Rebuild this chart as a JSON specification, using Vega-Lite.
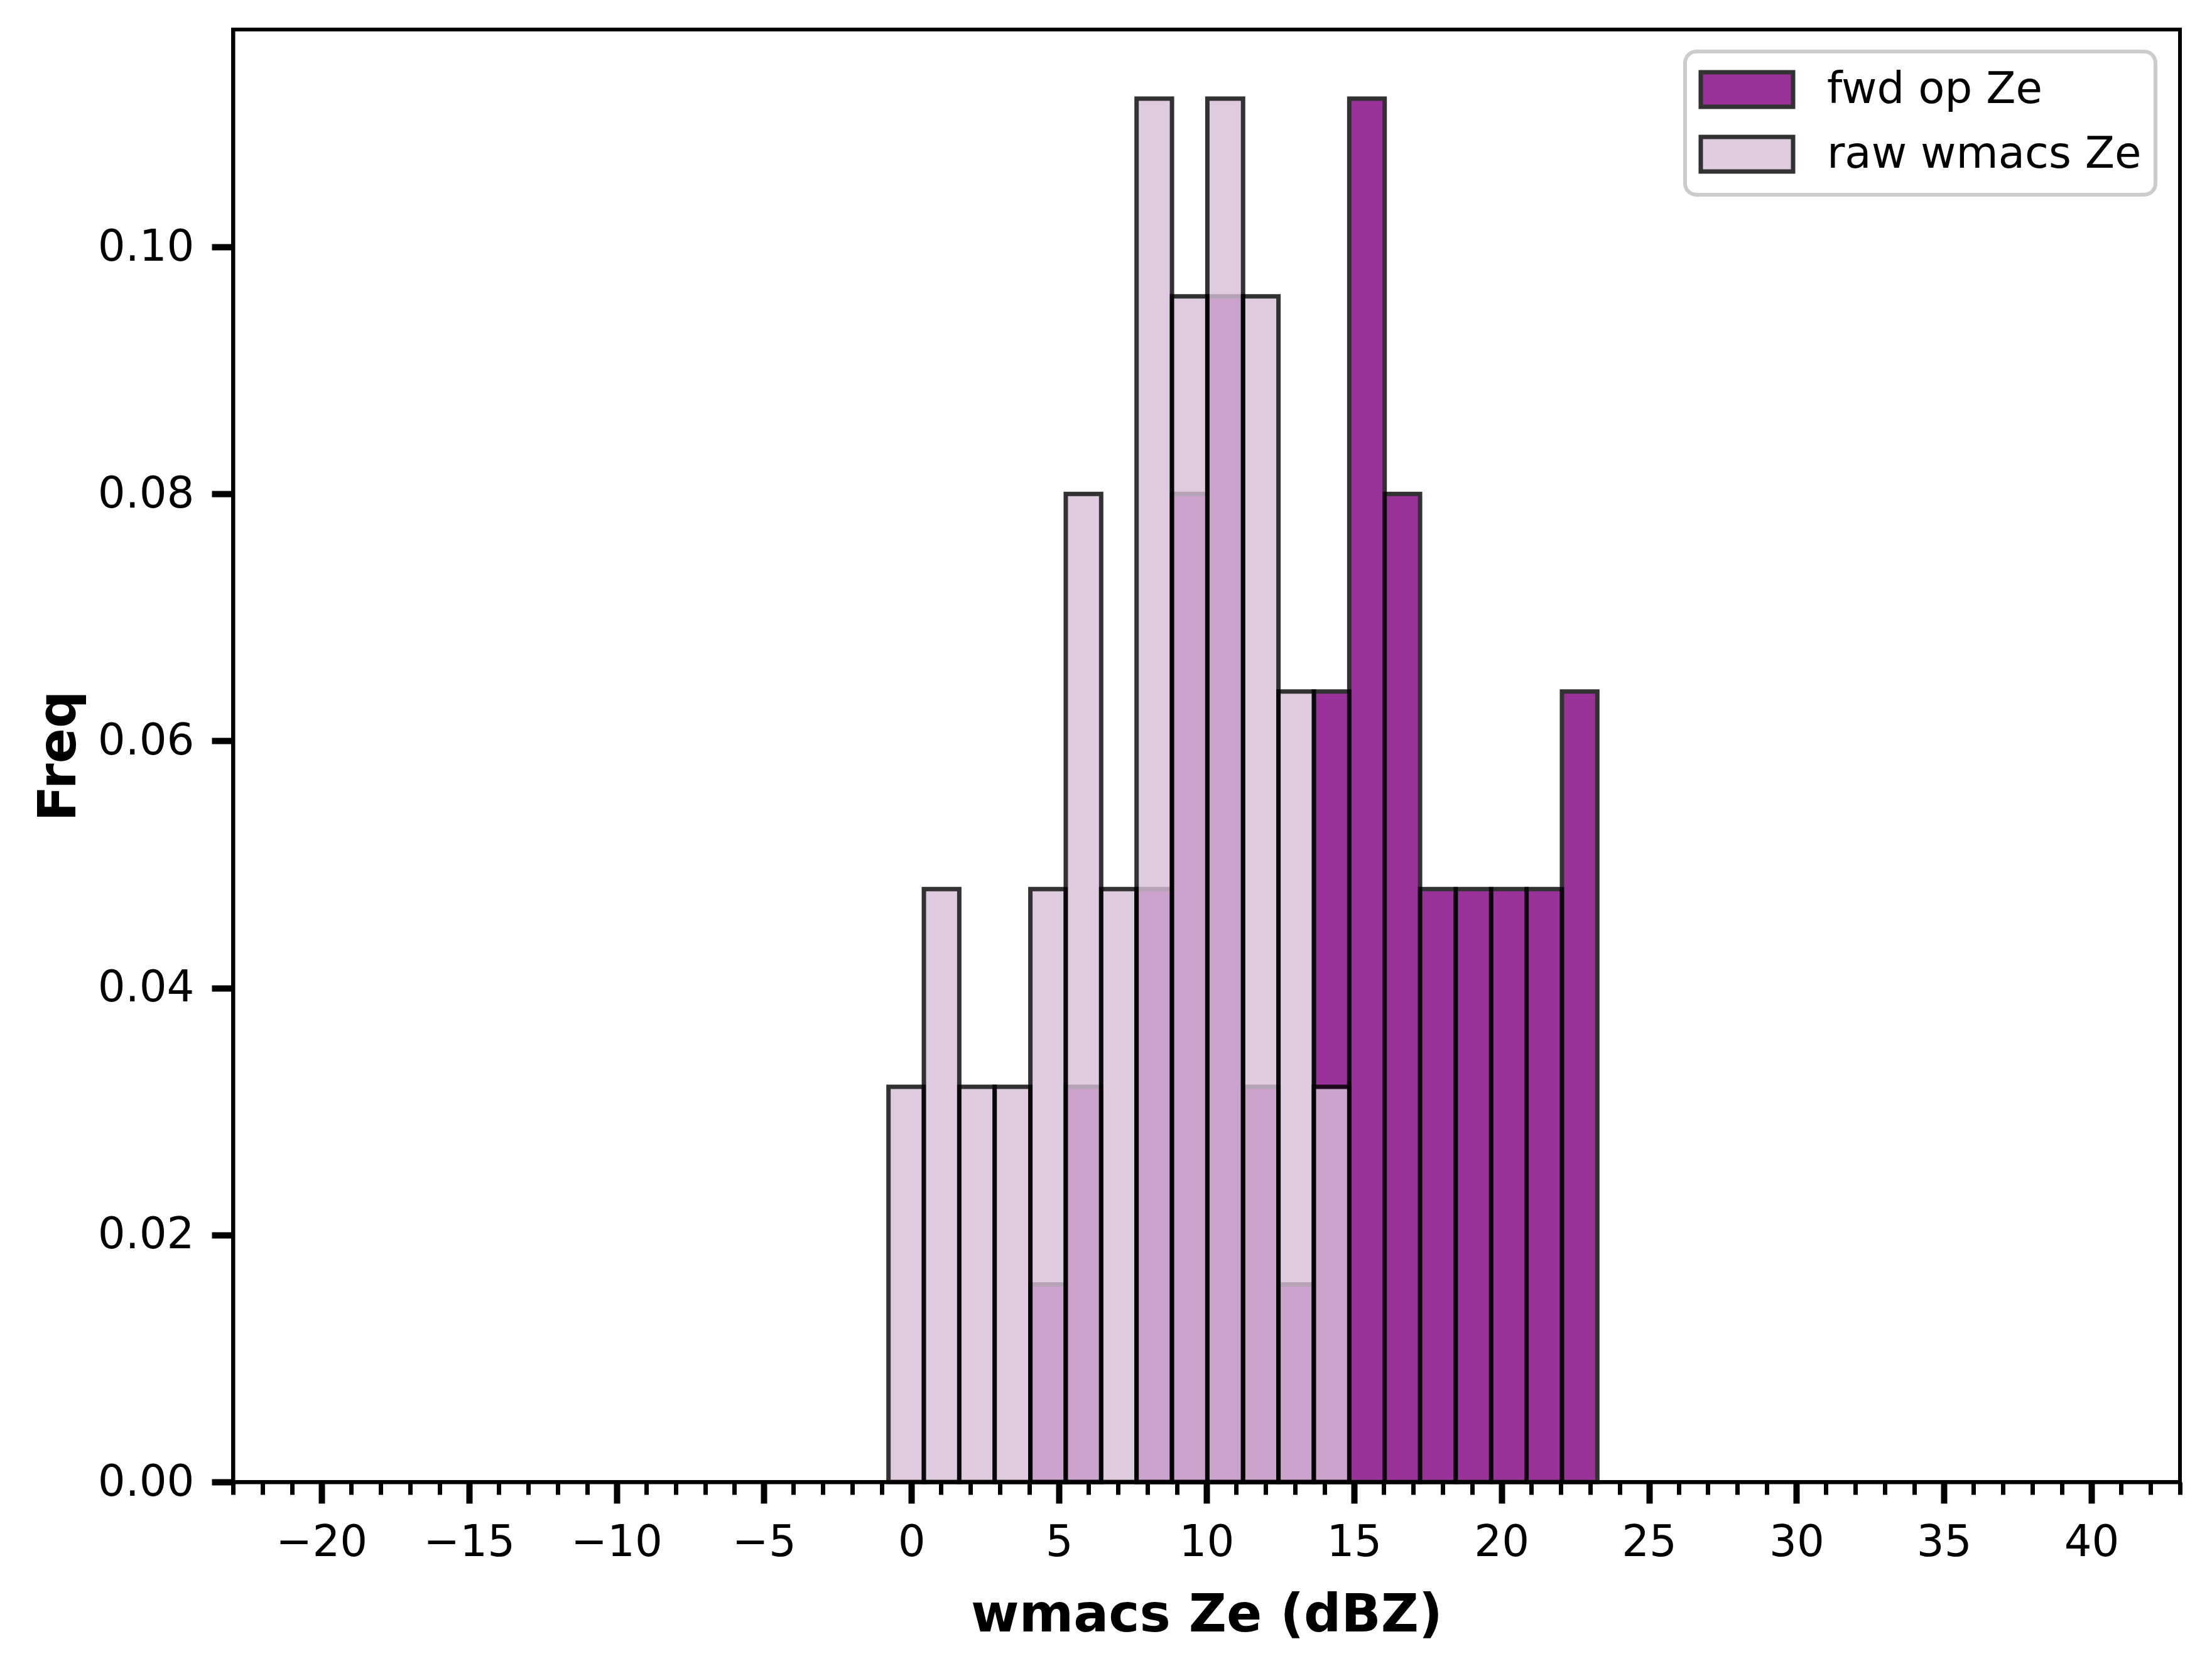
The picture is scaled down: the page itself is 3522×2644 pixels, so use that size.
{
  "$schema": "https://vega.github.io/schema/vega-lite/v6.json",
  "autosize": "none",
  "padding": {"left": 371, "top": 47, "right": 51, "bottom": 287},
  "width": 3100,
  "height": 2312,
  "background": "white",
  "data": {
    "values": [
      {"series": "fwd op Ze", "bin_start": 4.03, "bin_end": 5.23, "freq": 0.016},
      {"series": "fwd op Ze", "bin_start": 5.23, "bin_end": 6.43, "freq": 0.032},
      {"series": "fwd op Ze", "bin_start": 7.63, "bin_end": 8.83, "freq": 0.048},
      {"series": "fwd op Ze", "bin_start": 8.83, "bin_end": 10.03, "freq": 0.080},
      {"series": "fwd op Ze", "bin_start": 10.03, "bin_end": 11.24, "freq": 0.096},
      {"series": "fwd op Ze", "bin_start": 11.24, "bin_end": 12.44, "freq": 0.032},
      {"series": "fwd op Ze", "bin_start": 12.44, "bin_end": 13.64, "freq": 0.016},
      {"series": "fwd op Ze", "bin_start": 13.64, "bin_end": 14.84, "freq": 0.064},
      {"series": "fwd op Ze", "bin_start": 14.84, "bin_end": 16.04, "freq": 0.112},
      {"series": "fwd op Ze", "bin_start": 16.04, "bin_end": 17.24, "freq": 0.080},
      {"series": "fwd op Ze", "bin_start": 17.24, "bin_end": 18.45, "freq": 0.048},
      {"series": "fwd op Ze", "bin_start": 18.45, "bin_end": 19.65, "freq": 0.048},
      {"series": "fwd op Ze", "bin_start": 19.65, "bin_end": 20.85, "freq": 0.048},
      {"series": "fwd op Ze", "bin_start": 20.85, "bin_end": 22.05, "freq": 0.048},
      {"series": "fwd op Ze", "bin_start": 22.05, "bin_end": 23.25, "freq": 0.064},
      {"series": "raw wmacs Ze", "bin_start": -0.78, "bin_end": 0.42, "freq": 0.032},
      {"series": "raw wmacs Ze", "bin_start": 0.42, "bin_end": 1.62, "freq": 0.048},
      {"series": "raw wmacs Ze", "bin_start": 1.62, "bin_end": 2.82, "freq": 0.032},
      {"series": "raw wmacs Ze", "bin_start": 2.82, "bin_end": 4.03, "freq": 0.032},
      {"series": "raw wmacs Ze", "bin_start": 4.03, "bin_end": 5.23, "freq": 0.048},
      {"series": "raw wmacs Ze", "bin_start": 5.23, "bin_end": 6.43, "freq": 0.080},
      {"series": "raw wmacs Ze", "bin_start": 6.43, "bin_end": 7.63, "freq": 0.048},
      {"series": "raw wmacs Ze", "bin_start": 7.63, "bin_end": 8.83, "freq": 0.112},
      {"series": "raw wmacs Ze", "bin_start": 8.83, "bin_end": 10.03, "freq": 0.096},
      {"series": "raw wmacs Ze", "bin_start": 10.03, "bin_end": 11.24, "freq": 0.112},
      {"series": "raw wmacs Ze", "bin_start": 11.24, "bin_end": 12.44, "freq": 0.096},
      {"series": "raw wmacs Ze", "bin_start": 12.44, "bin_end": 13.64, "freq": 0.064},
      {"series": "raw wmacs Ze", "bin_start": 13.64, "bin_end": 14.84, "freq": 0.032}
    ]
  },
  "layer": [
    {
      "mark": {"type": "bar", "opacity": 0.8, "stroke": "black", "strokeWidth": 7},
      "encoding": {
        "x": {
          "field": "bin_start",
          "type": "quantitative",
          "scale": {"domain": [-23, 43], "nice": false, "zero": false},
          "axis": {
            "title": "wmacs Ze (dBZ)",
            "orient": "bottom",
            "values": [-20, -15, -10, -5, 0, 5, 10, 15, 20, 25, 30, 35, 40],
            "tickSize": 34,
            "tickWidth": 10,
            "labelPadding": 28,
            "titlePadding": 40
          }
        },
        "x2": {"field": "bin_end"},
        "y": {
          "field": "freq",
          "type": "quantitative",
          "scale": {"domain": [0, 0.1176], "nice": false},
          "axis": {
            "title": "Freq",
            "values": [0, 0.02, 0.04, 0.06, 0.08, 0.1],
            "format": ".2f",
            "tickSize": 34,
            "tickWidth": 10,
            "labelPadding": 28,
            "titlePadding": 35
          }
        },
        "y2": {"datum": 0},
        "color": {
          "field": "series",
          "type": "nominal",
          "scale": {"domain": ["fwd op Ze", "raw wmacs Ze"], "range": ["#800080", "#D8BFD8"]},
          "legend": {
            "title": null,
            "orient": "none",
            "legendX": 2312,
            "legendY": 35,
            "symbolType": "M-2.1,-0.786 H2.1 V0.786 H-2.1 Z",
            "symbolSize": 4900,
            "symbolOffset": 38,
            "symbolStrokeColor": "black",
            "symbolStrokeWidth": 7,
            "symbolOpacity": 0.8,
            "labelOffset": 89,
            "labelFontSize": 69,
            "labelLimit": 2000,
            "labelColor": "black",
            "rowPadding": 18,
            "padding": 22,
            "fillColor": "rgba(255,255,255,0.8)",
            "strokeColor": "#cccccc",
            "cornerRadius": 18,
            "encode": {"legend": {"update": {"strokeWidth": {"value": 6}}}}
          }
        }
      }
    },
    {
      "mark": {"type": "bar", "opacity": 0},
      "encoding": {
        "x": {
          "field": "bin_start",
          "type": "quantitative",
          "axis": {
            "title": null,
            "orient": "bottom",
            "labels": false,
            "domain": false,
            "values": [-23, -22, -21, -20, -19, -18, -17, -16, -15, -14, -13, -12, -11, -10, -9, -8, -7, -6, -5, -4, -3, -2, -1, 0, 1, 2, 3, 4, 5, 6, 7, 8, 9, 10, 11, 12, 13, 14, 15, 16, 17, 18, 19, 20, 21, 22, 23, 24, 25, 26, 27, 28, 29, 30, 31, 32, 33, 34, 35, 36, 37, 38, 39, 40, 41, 42, 43],
            "tickSize": 20,
            "tickWidth": 7
          }
        },
        "x2": {"field": "bin_end"},
        "y": {"field": "freq", "type": "quantitative"},
        "y2": {"datum": 0}
      }
    }
  ],
  "resolve": {"axis": {"x": "independent"}},
  "config": {
    "font": "DejaVu Sans",
    "view": {"stroke": "black", "strokeWidth": 6},
    "axis": {
      "grid": false,
      "domainColor": "black",
      "domainWidth": 6,
      "tickColor": "black",
      "labelColor": "black",
      "labelFontSize": 69,
      "labelFont": "DejaVu Sans",
      "titleFont": "DejaVu Sans",
      "titleFontSize": 83,
      "titleFontWeight": "bold",
      "titleColor": "black"
    }
  }
}
